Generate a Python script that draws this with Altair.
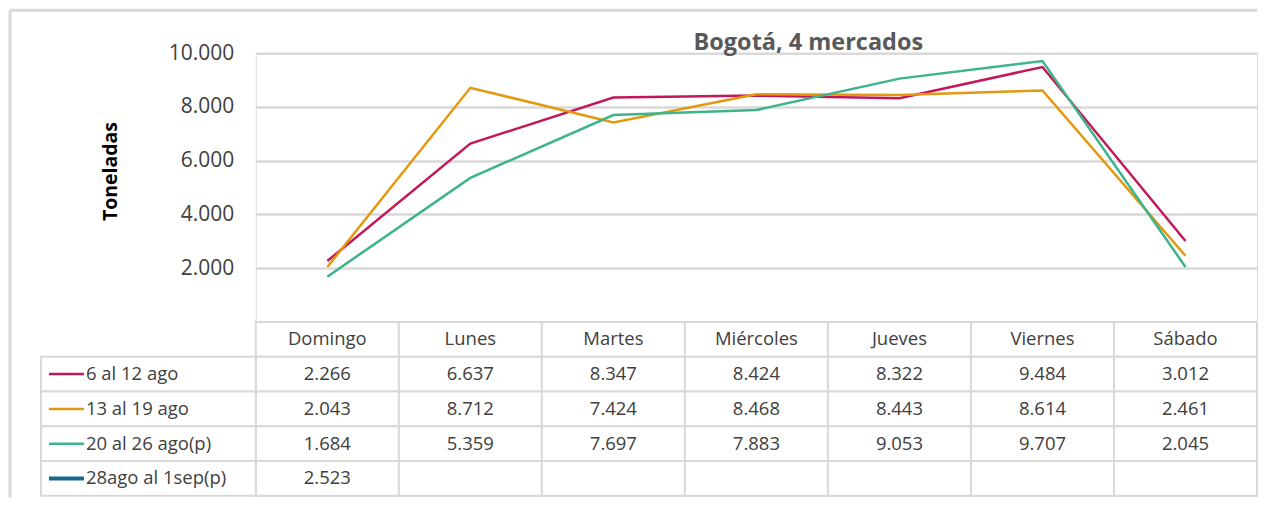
import altair as alt
import pandas as pd

days = ["Domingo", "Lunes", "Martes", "Miércoles", "Jueves", "Viernes", "Sábado"]
series = ["6 al 12 ago", "13 al 19 ago", "20 al 26 ago(p)", "28ago al 1sep(p)"]
s1 = [2266, 6637, 8347, 8424, 8322, 9484, 3012]
s2 = [2043, 8712, 7424, 8468, 8443, 8614, 2461]
s3 = [1684, 5359, 7697, 7883, 9053, 9707, 2045]
s4 = [2523, None, None, None, None, None, None]
colors = ["#C2185B", "#E3980F", "#3DB48A", "#17698E"]
swatch_widths = [2.5, 2.5, 2.5, 4]
y_ticks = [2000, 4000, 6000, 8000, 10000]
title_text = "Bogotá, 4 mercados"
y_title = "Toneladas"

FONT = "Open Sans"
GRID = "#d9d9d9"
TXT = "#404040"

all_series = [s1, s2, s3, s4]

line_rows = []
for name, vals in zip(series, all_series):
    for d, v in zip(days, vals):
        if v is not None:
            line_rows.append({"day": d, "series": name, "value": v})
line_df = pd.DataFrame(line_rows)

def fmt(v):
    return "" if v is None else f"{v:,}".replace(",", ".")

cell_rows = []
for d in days:
    cell_rows.append({"day": d, "row": "hdr", "text": d})
for name, vals in zip(series, all_series):
    for d, v in zip(days, vals):
        cell_rows.append({"day": d, "row": name, "text": fmt(v)})
cell_df = pd.DataFrame(cell_rows)
label_df = pd.DataFrame({"row": series, "series": series, "sw": swatch_widths})

W = 1002
H_TOP = 269
H_TAB = 174

color_scale = alt.Scale(domain=series, range=colors)
one = pd.DataFrame({"a": [0]})

lines = alt.Chart(line_df).mark_line(strokeWidth=2.5).encode(
    x=alt.X("day:N", sort=days, scale=alt.Scale(type="point", domain=days, padding=0.5), axis=None),
    y=alt.Y("value:Q", scale=alt.Scale(domain=[0, 10000]),
            axis=alt.Axis(values=y_ticks, domain=False, ticks=False, labelPadding=22,
                          labelFontSize=21, labelColor=TXT, labelFont=FONT,
                          labelExpr="replace(format(datum.value, ',.0f'), ',', '.')",
                          gridColor=GRID, gridWidth=2.5,
                          title=y_title, titleFont=FONT, titleFontSize=19.5, titleFontWeight="bold",
                          titleColor="#000000", titleAngle=-90, titleX=-145, titleY=118,
                          titleAlign="center", titleBaseline="middle")),
    color=alt.Color("series:N", scale=color_scale, legend=None),
)

title_mark = alt.Chart(one).mark_text(
    text=title_text, font=FONT, fontSize=23.5, fontWeight="bold", color="#595959",
    align="center", baseline="alphabetic"
).encode(x=alt.value(553), y=alt.value(-3))

frame_left = alt.Chart(one).mark_rule(color=GRID, strokeWidth=3).encode(
    x=alt.value(-246), y=alt.value(-43), y2=alt.value(445))
frame_top = alt.Chart(one).mark_rule(color=GRID, strokeWidth=3).encode(
    x=alt.value(-246), x2=alt.value(W), y=alt.value(-43))

top = alt.layer(frame_left, frame_top, lines, title_mark).properties(width=W, height=H_TOP)

row_dom = ["hdr"] + series
xb = alt.X("day:N", sort=days, scale=alt.Scale(type="band", domain=days, paddingInner=0, paddingOuter=0), axis=None)
yb = alt.Y("row:N", sort=row_dom, scale=alt.Scale(type="band", domain=row_dom, paddingInner=0, paddingOuter=0), axis=None)

cells = alt.Chart(cell_df).mark_rect(fill="white", stroke=GRID, strokeWidth=2).encode(x=xb, y=yb)
cell_text = alt.Chart(cell_df).mark_text(font=FONT, fontSize=18.5, color=TXT, baseline="middle").encode(
    x=alt.X("day:N", sort=days, scale=alt.Scale(type="band", domain=days, paddingInner=0, paddingOuter=0), axis=None, bandPosition=0.5),
    y=alt.Y("row:N", sort=row_dom, scale=alt.Scale(type="band", domain=row_dom, paddingInner=0, paddingOuter=0), axis=None, bandPosition=0.5),
    text="text:N")

lab_cells = alt.Chart(label_df).mark_rect(fill="white", stroke=GRID, strokeWidth=2).encode(
    x=alt.value(-215), x2=alt.value(0), y=yb)
swatch = alt.Chart(label_df).mark_rule().encode(
    x=alt.value(-207), x2=alt.value(-172),
    y=alt.Y("row:N", sort=row_dom, scale=alt.Scale(type="band", domain=row_dom, paddingInner=0, paddingOuter=0), axis=None, bandPosition=0.5),
    color=alt.Color("series:N", scale=color_scale, legend=None),
    strokeWidth=alt.StrokeWidth("sw:Q", scale=None, legend=None))
lab_text = alt.Chart(label_df).mark_text(font=FONT, fontSize=18.5, color=TXT, align="left", baseline="middle").encode(
    x=alt.value(-170),
    y=alt.Y("row:N", sort=row_dom, scale=alt.Scale(type="band", domain=row_dom, paddingInner=0, paddingOuter=0), axis=None, bandPosition=0.5),
    text="series:N")

table = alt.layer(cells, lab_cells, swatch, cell_text, lab_text).properties(width=W, height=H_TAB)

chart = alt.vconcat(top, table, spacing=0).properties(
    bounds="flush", padding=0
).resolve_scale(color="shared").configure_view(stroke=None).configure(font=FONT, background="white")

chart.save("out.html", embed_options={"renderer": "svg", "actions": False})
